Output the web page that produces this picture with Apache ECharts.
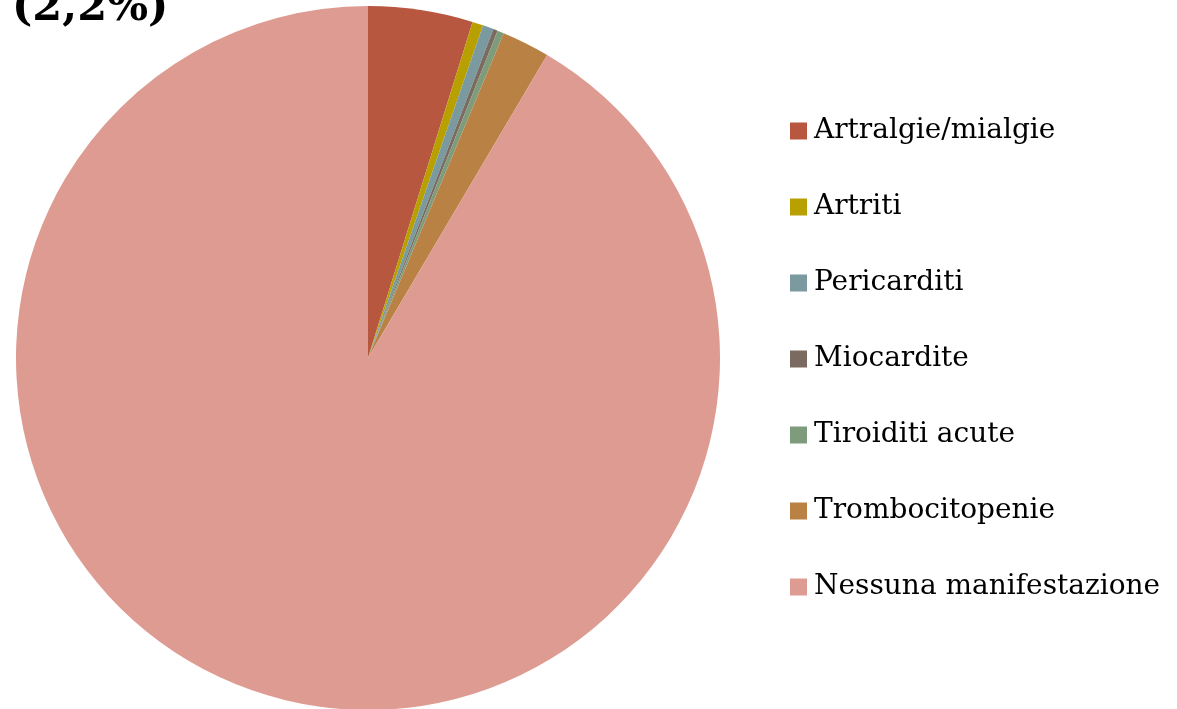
<!DOCTYPE html>
<html>
<head>
<meta charset="utf-8">
<script src="https://cdn.jsdelivr.net/npm/echarts@6/dist/echarts.min.js"></script>
<style>
  html, body { margin: 0; padding: 0; background: #fff; }
  #chart { width: 1177px; height: 709px; }
</style>
</head>
<body>
<div id="chart"></div>
<script>
// Manifestazioni cliniche (percentuali)
const categories = [
  'Artralgie/mialgie',
  'Artriti',
  'Pericarditi',
  'Miocardite',
  'Tiroiditi acute',
  'Trombocitopenie',
  'Nessuna manifestazione'
];
const values = [4.8, 0.5, 0.5, 0.2, 0.3, 2.2, 91.5];
const colors = ['#B85740', '#B8A000', '#7B9A9F', '#7A6A5F', '#7E9C7C', '#B98244', '#DE9B92'];

// Percentage label shown for Trombocitopenie
const labelIndex = 5;
const labelText = '(' + values[labelIndex].toFixed(1).replace('.', ',') + '%)';

const serif = '"DejaVu Serif", "Liberation Serif", serif';

const chart = echarts.init(document.getElementById('chart'), null, { renderer: 'canvas' });
chart.setOption({
  animation: false,
  backgroundColor: '#ffffff',
  color: colors,
  legend: {
    orient: 'vertical',
    left: 790,
    top: 117,
    padding: 0,
    icon: 'rect',
    itemWidth: 17,
    itemHeight: 17,
    itemGap: 48,
    textStyle: { fontFamily: serif, fontSize: 28, color: '#000', padding: [0, 0, 0, 2] },
    data: categories
  },
  series: [{
    type: 'pie',
    center: [368, 358],
    radius: 352,
    startAngle: 90,
    clockwise: true,
    label: { show: false },
    labelLine: { show: false },
    itemStyle: { borderWidth: 0 },
    emphasis: { disabled: true },
    data: categories.map((c, i) => ({ name: c, value: values[i] }))
  }],
  graphic: [{
    type: 'text',
    left: 12,
    top: -13,
    style: {
      text: labelText,
      font: 'bold 43px ' + serif,
      fill: '#000'
    }
  }]
});
</script>
</body>
</html>
